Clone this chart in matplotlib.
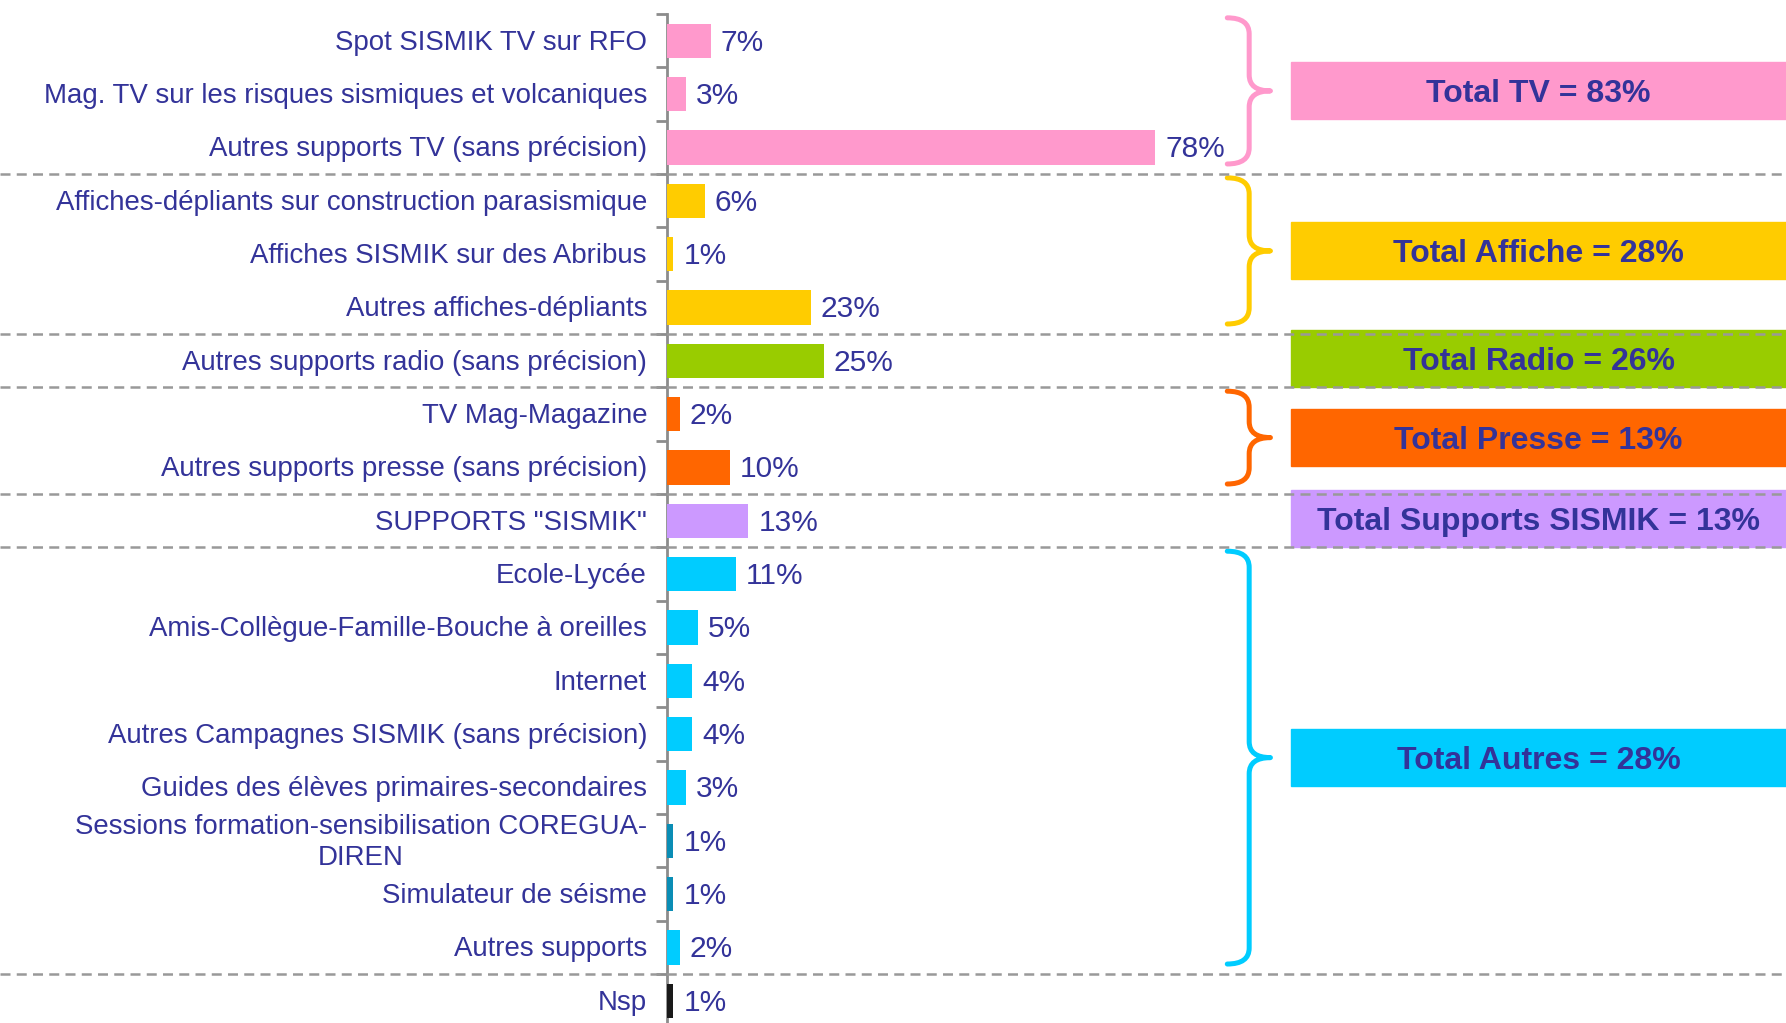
import matplotlib
matplotlib.use('Agg')
import matplotlib.pyplot as plt
from matplotlib.path import Path
from matplotlib.patches import PathPatch, Rectangle
from matplotlib.lines import Line2D
import matplotlib.transforms as mtransforms

labels = ['Spot SISMIK TV sur RFO',
          'Mag. TV sur les risques sismiques et volcaniques',
          'Autres supports TV (sans précision)',
          'Affiches-dépliants sur construction parasismique',
          'Affiches SISMIK sur des Abribus',
          'Autres affiches-dépliants',
          'Autres supports radio (sans précision)',
          'TV Mag-Magazine',
          'Autres supports presse (sans précision)',
          'SUPPORTS "SISMIK"',
          'Ecole-Lycée',
          'Amis-Collègue-Famille-Bouche à oreilles',
          'Internet',
          'Autres Campagnes SISMIK (sans précision)',
          'Guides des élèves primaires-secondaires',
          'Sessions formation-sensibilisation COREGUA-\nDIREN',
          'Simulateur de séisme',
          'Autres supports',
          'Nsp']
values = [7, 3, 78, 6, 1, 23, 25, 2, 10, 13, 11, 5, 4, 4, 3, 1, 1, 2, 1]
bar_colors = ['#FF99CC'] * 3 + ['#FFCC00'] * 3 + ['#99CC00'] + ['#FF6600'] * 2 + \
             ['#CC99FF'] + ['#00CCFF'] * 5 + ['#0A8DB5', '#0A8DB5', '#00CCFF'] + ['#1A1A1A']

# groups: title, total, colour, first row, last row
group_names = ['Total TV', 'Total Affiche', 'Total Radio', 'Total Presse',
               'Total Supports SISMIK', 'Total Autres']
group_totals = [83, 28, 26, 13, 13, 28]
group_colors = ['#FF99CC', '#FFCC00', '#99CC00', '#FF6600', '#CC99FF', '#00CCFF']
group_first = [0, 3, 6, 7, 9, 10]
group_last = [2, 5, 6, 8, 9, 17]
separators = [2.5, 5.5, 6.5, 8.5, 9.5, 17.5]

txt = '#333399'
W, H = 1786, 1023
fig = plt.figure(figsize=(W / 100, H / 100), dpi=100)
left = 667 / W
ax = fig.add_axes([left, 1 - 1027.5 / H, 1 - left, 1013.4 / H])
n = len(values)
ax.set_ylim(n - 0.5, -0.5)
ax.set_xlim(0, (W - 667) / 6.26)

ys = list(range(n))
ax.barh(ys, values, height=0.64, color=bar_colors, zorder=3)

for s in ['top', 'right', 'bottom']:
    ax.spines[s].set_visible(False)
ax.spines['left'].set_color('#8C8C8C')
ax.spines['left'].set_linewidth(2)
ax.set_xticks([])
ax.set_yticks([i - 0.5 for i in range(n + 1)])
ax.set_yticklabels([])
ax.tick_params(axis='y', length=8, width=2, color='#8C8C8C', direction='out')

lab_font = ['Liberation Sans Narrow', 'Liberation Sans']
ytr = mtransforms.offset_copy(ax.get_yaxis_transform(), fig=fig, x=0, y=-2, units='dots')
for i, (lab, v) in enumerate(zip(labels, values)):
    ax.text(-20 / (W - 667), i, lab, transform=ytr, ha='right', va='center',
            multialignment='center', fontsize=19.9, color=txt, family=lab_font,
            linespacing=1.25)
    off = mtransforms.offset_copy(ax.transData, fig=fig, x=10, y=-2, units='dots')
    ax.text(v, i, f'{v}%', transform=off, ha='left', va='center',
            fontsize=21.5, color=txt, family='Liberation Sans')

# dashed separators across whole width
btr = mtransforms.blended_transform_factory(fig.transFigure, ax.transData)
for y in separators:
    fig.add_artist(Line2D([0, 1], [y, y], transform=btr, color='#999999',
                          lw=1.8, ls=(0, (4, 2.5)), zorder=5))

def brace(ax, y0, y1, x0, x1, x2, color):
    ym = (y0 + y1) / 2
    r = 0.3
    verts = [(x0, y0), (x1, y0), (x1, y0 + r),
             (x1, ym - r), (x1, ym), (x2, ym),
             (x1, ym), (x1, ym + r),
             (x1, y1 - r), (x1, y1), (x0, y1)]
    codes = [Path.MOVETO, Path.CURVE3, Path.CURVE3,
             Path.LINETO, Path.CURVE3, Path.CURVE3,
             Path.CURVE3, Path.CURVE3,
             Path.LINETO, Path.CURVE3, Path.CURVE3]
    ax.add_patch(PathPatch(Path(verts, codes), fill=False, ec=color, lw=3.6,
                           capstyle='round', joinstyle='round', clip_on=False))
    return ym

box_off = mtransforms.offset_copy(ax.transData, fig=fig, x=0, y=-3, units='dots')
for name, tot, col, a, b in zip(group_names, group_totals, group_colors, group_first, group_last):
    if b > a:
        yc = brace(ax, a - 0.43, b + 0.31, 89.5, 93.0, 96.4, col)
    else:
        yc = a - 0.04
    ax.add_patch(Rectangle((99.7, yc - 0.535), 100, 1.07, color=col, clip_on=False, zorder=2))
    ax.text((99.7 + ax.get_xlim()[1]) / 2, yc, f'{name} = {tot}%', transform=box_off,
            ha='center', va='center', fontsize=23, fontweight='bold', color=txt,
            family='Liberation Sans', zorder=4)

fig.savefig('out.png', dpi=100)
